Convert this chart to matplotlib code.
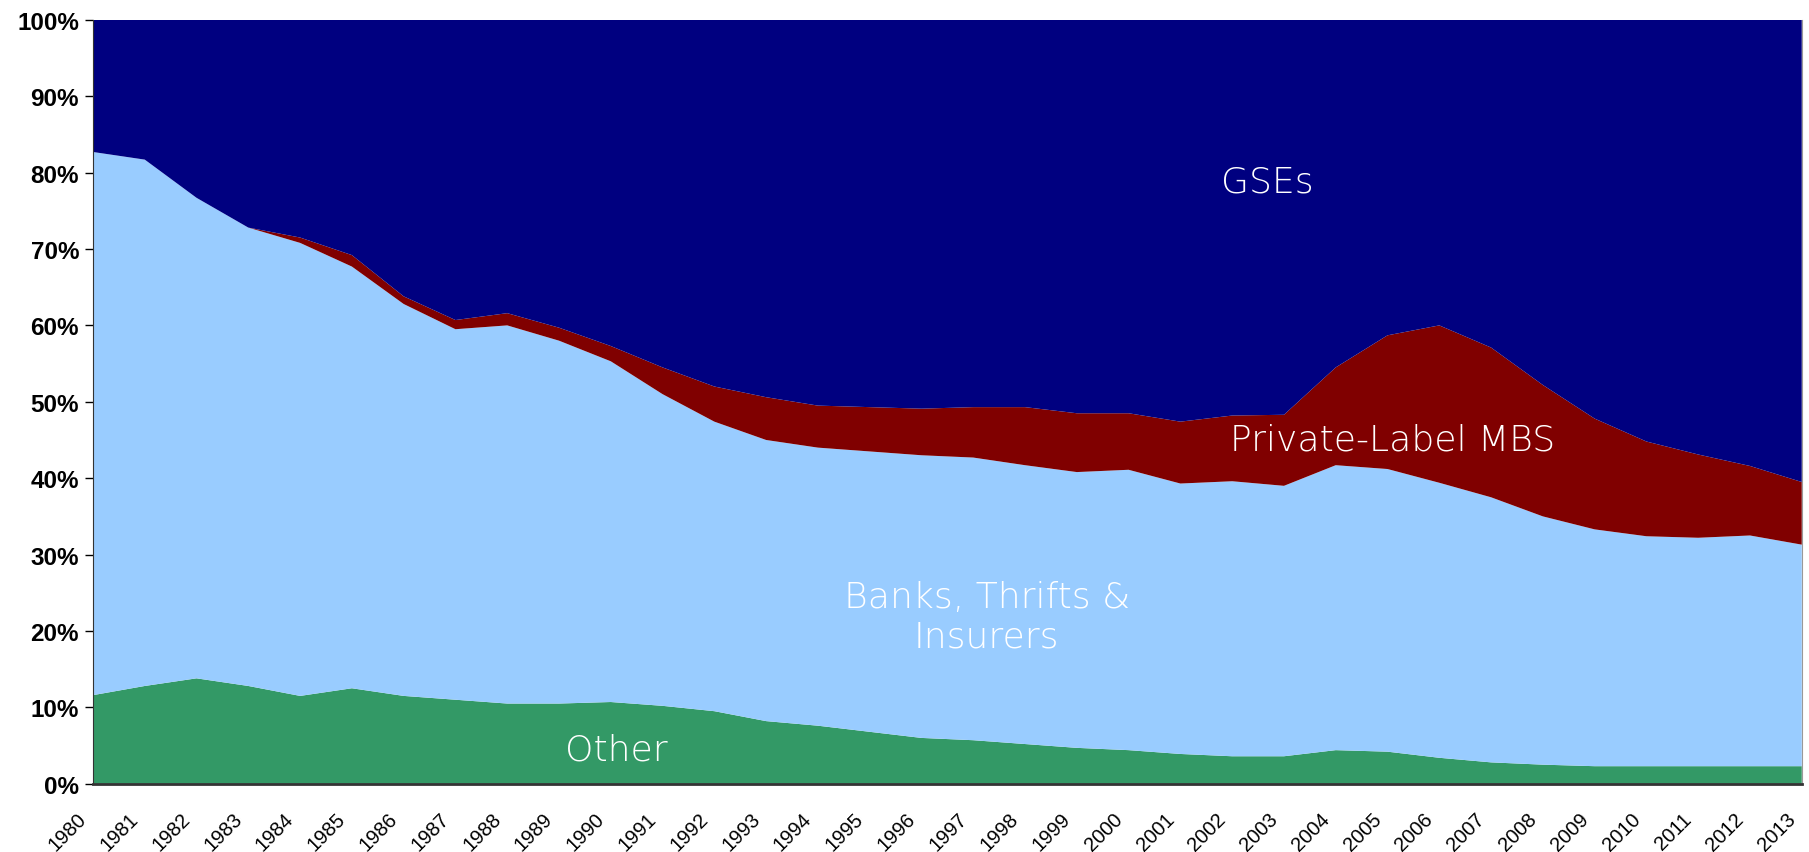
import numpy as np
import matplotlib.pyplot as plt
import matplotlib.transforms as mtransforms
from matplotlib.ticker import PercentFormatter

years = list(range(1980, 2014))

# cumulative tops of each band (percent)
other = [11.6, 12.8, 13.8, 12.8, 11.5, 12.5, 11.5, 11.0, 10.5, 10.5,
         10.7, 10.2, 9.5, 8.2, 7.6, 6.8, 6.0, 5.7, 5.2, 4.7,
         4.4, 3.9, 3.6, 3.6, 4.4, 4.2, 3.4, 2.8, 2.5, 2.3,
         2.3, 2.3, 2.3, 2.3]
banks_top = [82.7, 81.7, 76.7, 72.8, 70.8, 67.7, 62.8, 59.5, 60.0, 58.0,
             55.3, 51.0, 47.4, 45.0, 44.0, 43.5, 43.0, 42.7, 41.7, 40.8,
             41.1, 39.3, 39.6, 39.0, 41.7, 41.2, 39.4, 37.5, 35.0, 33.3,
             32.4, 32.2, 32.5, 31.3]
plmbs_top = [82.7, 81.7, 76.7, 72.8, 71.5, 69.2, 63.8, 60.7, 61.6, 59.7,
             57.3, 54.5, 52.0, 50.6, 49.5, 49.3, 49.1, 49.3, 49.3, 48.5,
             48.5, 47.4, 48.2, 48.3, 54.5, 58.7, 60.0, 57.1, 52.2, 47.8,
             44.8, 43.1, 41.6, 39.5]

banks = np.array(banks_top) - np.array(other)
plmbs = np.array(plmbs_top) - np.array(banks_top)
gses = 100 - np.array(plmbs_top)

colors = ["#339966", "#99CCFF", "#800000", "#000080"]

fig = plt.figure(figsize=(18.09, 8.53), dpi=100)
ax = fig.add_axes([0.0514, 0.080, 0.9446, 0.8956])

ax.stackplot(years, other, banks, plmbs, gses, colors=colors, linewidth=0)

ax.set_xlim(1980, 2013)
ax.set_ylim(0, 100)
ax.yaxis.set_major_formatter(PercentFormatter(decimals=0))
ax.set_yticks(range(0, 101, 10))
ax.set_xticks(years)
ax.set_xticklabels([str(y) for y in years], rotation=45, ha="right",
                   rotation_mode="anchor", fontsize=14.5, family="Liberation Sans")
ax.tick_params(axis="x", length=0, pad=18)
ax.tick_params(axis="y", length=6, width=1, direction="out", pad=4)
# nudge year labels a bit to the left, like the original
shift = mtransforms.ScaledTranslation(-0.16, 0, fig.dpi_scale_trans)
for lbl in ax.get_xticklabels():
    lbl.set_transform(lbl.get_transform() + shift)
for lbl in ax.get_yticklabels():
    lbl.set_fontsize(17.5)
    lbl.set_fontweight("bold")
    lbl.set_family("Liberation Sans")

ax.spines["top"].set_visible(False)
ax.spines["right"].set_color("#999999")
ax.spines["left"].set_color("#333333")
ax.spines["bottom"].set_color("#333333")
ax.spines["bottom"].set_linewidth(2)

lab = dict(color="white", fontsize=26, family="DejaVu Sans", fontweight="light",
           ha="center", va="center")
ax.text(2002.67, 78.9, "GSEs", **lab)
ax.text(2005.1, 45.0, "Private-Label MBS", **lab)
ax.text(1997.26, 21.9, "Banks, Thrifts &\nInsurers", linespacing=1.2, **lab)
ax.text(1990.1, 4.5, "Other", **lab)

fig.savefig("out.png", dpi=100)
